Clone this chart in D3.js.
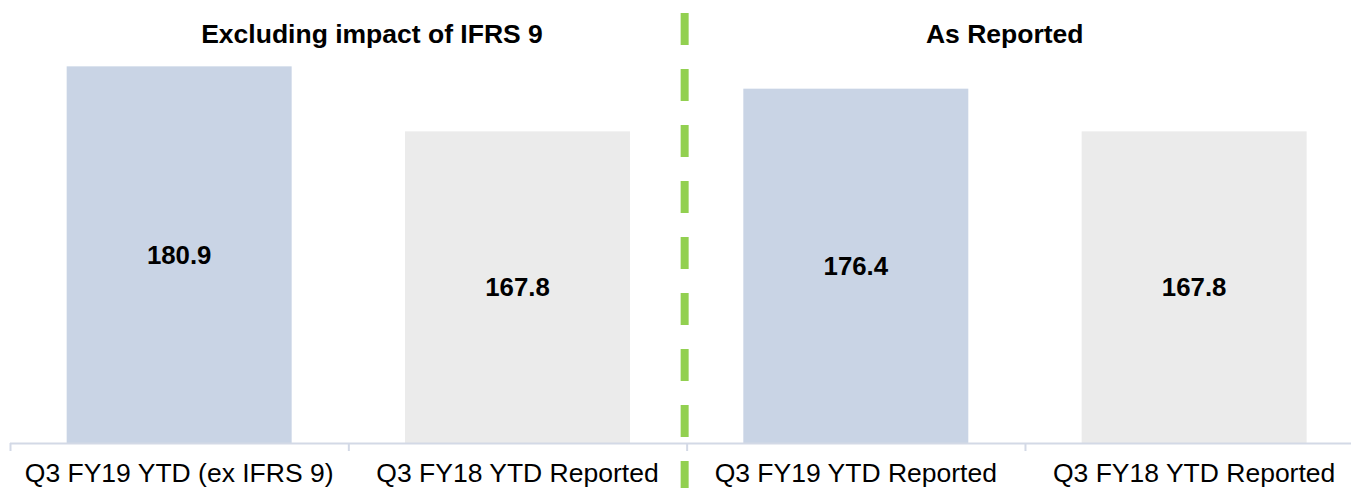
<!DOCTYPE html>
<html>
<head>
<meta charset="utf-8">
<script src="https://cdn.jsdelivr.net/npm/d3@7"></script>
<style>
  html, body { margin: 0; padding: 0; background: #ffffff; }
  svg { display: block; font-family: "Liberation Sans", Arial, sans-serif; }
</style>
</head>
<body>
<div id="chart"></div>
<script>
const categories = ['Q3 FY19 YTD (ex IFRS 9)', 'Q3 FY18 YTD Reported', 'Q3 FY19 YTD Reported', 'Q3 FY18 YTD Reported'];
const keys = ['a', 'b', 'c', 'd'];
const values = [180.9, 167.8, 176.4, 167.8];
const colors = ['#c9d4e5', '#ebebeb', '#c9d4e5', '#ebebeb'];
const groupTitles = ['Excluding impact of IFRS 9', 'As Reported'];

const width = 1351;
const height = 488;

const svg = d3.select('#chart')
    .append('svg')
    .attr('width', width)
    .attr('height', height);

const x = d3.scaleBand()
    .domain(keys)
    .range([10, 1363.3])
    .paddingInner(0.335)
    .paddingOuter(0.1675);

const y = d3.scaleLinear()
    .domain([105, 185])
    .range([443, 46]);

// bars
svg.selectAll('rect.bar')
    .data(values)
    .enter().append('rect')
    .attr('class', 'bar')
    .attr('x', (d, i) => x(keys[i]))
    .attr('y', (d) => y(d))
    .attr('width', x.bandwidth())
    .attr('height', (d) => y.range()[0] - y(d))
    .attr('fill', (d, i) => colors[i]);

// value labels in the middle of each bar
svg.selectAll('text.value')
    .data(values)
    .enter().append('text')
    .attr('class', 'value')
    .attr('x', (d, i) => x(keys[i]) + x.bandwidth() / 2)
    .attr('y', (d) => (y(d) + y.range()[0]) / 2)
    .attr('dy', '0.36em')
    .attr('text-anchor', 'middle')
    .attr('font-size', 25.8)
    .attr('font-weight', 'bold')
    .attr('fill', '#000')
    .text((d) => d.toFixed(1));

// x axis: line + tick marks at band boundaries
const axisY = y.range()[0];
const step = x.step();
const x0 = x.range()[0];

svg.append('line')
    .attr('x1', x0)
    .attr('x2', width)
    .attr('y1', axisY + 0.5)
    .attr('y2', axisY + 0.5)
    .attr('stroke', '#d3d9e6')
    .attr('stroke-width', 2);

svg.selectAll('line.tick')
    .data(d3.range(keys.length))
    .enter().append('line')
    .attr('class', 'tick')
    .attr('x1', (i) => x0 + i * step + 0.5)
    .attr('x2', (i) => x0 + i * step + 0.5)
    .attr('y1', axisY)
    .attr('y2', axisY + 8)
    .attr('stroke', '#d3d9e6')
    .attr('stroke-width', 2);

// category labels
svg.selectAll('text.cat')
    .data(categories)
    .enter().append('text')
    .attr('class', 'cat')
    .attr('x', (d, i) => x(keys[i]) + x.bandwidth() / 2)
    .attr('y', 482)
    .attr('text-anchor', 'middle')
    .attr('font-size', 26.5)
    .attr('fill', '#000')
    .text((d) => d);

// group titles
const titleX = [x0 + step * 1.07, x0 + step * 2.94];
svg.selectAll('text.title')
    .data(groupTitles)
    .enter().append('text')
    .attr('class', 'title')
    .attr('x', (d, i) => titleX[i])
    .attr('y', 43)
    .attr('text-anchor', 'middle')
    .attr('font-size', 26.5)
    .attr('font-weight', 'bold')
    .attr('fill', '#000')
    .text((d) => d);

// green dashed divider
const divX = x0 + step * 2 - 2;
svg.append('line')
    .attr('x1', divX)
    .attr('x2', divX)
    .attr('y1', 13)
    .attr('y2', height)
    .attr('stroke', '#92d050')
    .attr('stroke-width', 8)
    .attr('stroke-dasharray', '32,24');
</script>
</body>
</html>
